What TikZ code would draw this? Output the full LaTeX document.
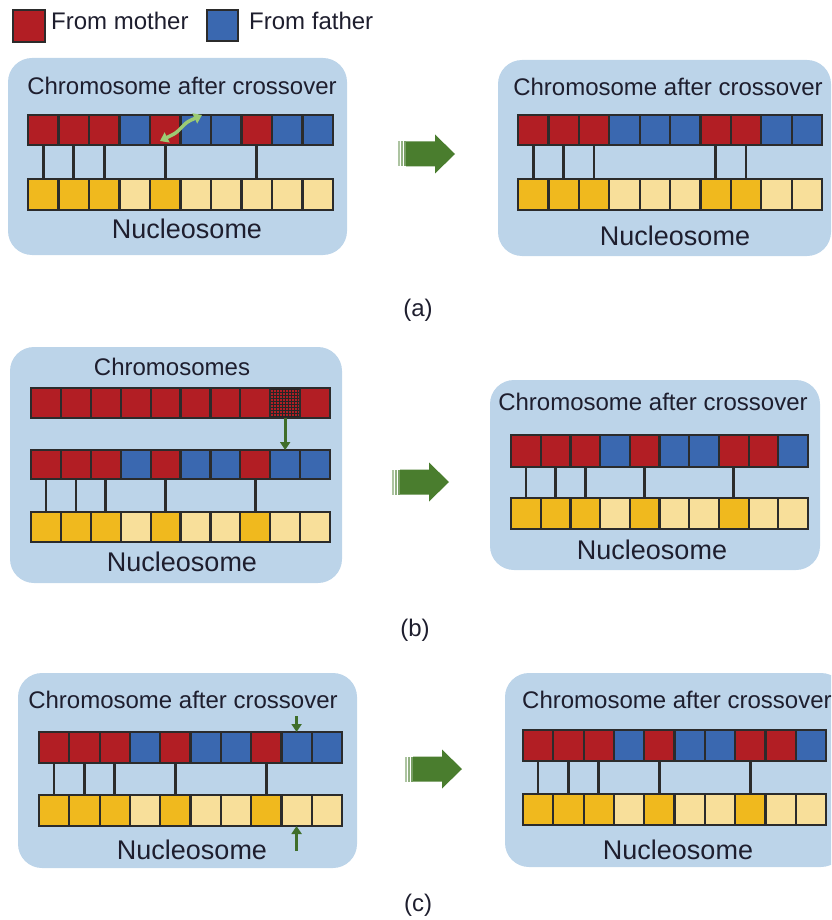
\documentclass[tikz,border=0pt]{standalone}
\usepackage{fontspec}
\setmainfont{Liberation Sans}
\usetikzlibrary{patterns,arrows.meta}
\definecolor{cR}{HTML}{B21E24}
\definecolor{cB}{HTML}{3A68B0}
\definecolor{cY}{HTML}{F0B91E}
\definecolor{cL}{HTML}{F8DF9A}
\definecolor{panelc}{HTML}{BCD4E9}
\definecolor{outl}{HTML}{2B2B2B}
\definecolor{txtc}{HTML}{1E1E2E}
\definecolor{bigg}{HTML}{4A7D2E}
\definecolor{darkg}{HTML}{3F6E2A}
\definecolor{lightg}{HTML}{9CCB74}
\begin{document}
\begin{tikzpicture}[x=1pt,y=-1pt,
  cell/.style n args={2}{draw=outl, line width=2.2pt, inner sep=0pt, outer sep=0pt,
    anchor=north west, minimum width=#1, minimum height=#2},
  panel/.style={fill=panelc, rounded corners=24pt, inner sep=0pt, outer sep=0pt},
  conn/.style={draw=outl, line width=2.6pt},
  ttl/.style={font=\fontsize{24}{28}\selectfont, text=txtc, inner sep=0pt},
  nuc/.style={font=\fontsize{27}{32}\selectfont, text=txtc, inner sep=0pt},
  garrow/.style={draw=darkg, line width=2.8pt, -{Triangle[width=10pt,length=8pt]}},
  dblarrow/.style={draw=lightg, line width=3.5pt, rounded corners=3pt,
    {Triangle[width=11pt,length=8pt]}-{Triangle[width=11pt,length=8pt]}},
  bigarrow/.pic={
    \fill[bigg] (8,-12.5) -- (37,-12.5) -- (37,-19.5) -- (57,0) -- (37,19.5) -- (37,12.5) -- (8,12.5) -- cycle;
    \fill[bigg, opacity=0.45] (0,-12.5) rectangle (1.6,12.5);
    \fill[bigg, opacity=0.6] (3,-12.5) rectangle (4.6,12.5);
    \fill[bigg, opacity=0.75] (5.8,-12.5) rectangle (8,12.5);
  }]
\useasboundingbox (0,0) rectangle (831,920);
\clip (0,0) rectangle (831,920);

% ---------- legend ----------
\node[cell={32pt}{32pt}, fill=cR] (legR) at (13,10) {};
\node[ttl, anchor=west] (legRt) at (51,21) {From mother};
\node[cell={31pt}{31pt}, fill=cB] (legB) at (207,10) {};
\node[ttl, anchor=west] (legBt) at (249,21) {From father};

% ---------- panel (a) ----------
\node[panel, minimum width=339pt, minimum height=197pt] (aLbox) at (177.5,156.5) {};
\node[ttl] (aLtitle) at (182,86) {Chromosome after crossover};
\foreach \c [count=\i] in {R,R,R,B,R,B,B,R,B,B}
  \node[cell={30.5pt}{30pt}, fill=c\c] (aLt\i) at ({28+(\i-1)*30.5},115) {};
\foreach \c [count=\i] in {Y,Y,Y,L,Y,L,L,L,L,L}
  \node[cell={30.5pt}{31pt}, fill=c\c] (aLb\i) at ({28+(\i-1)*30.5},179) {};
\foreach \i in {1,2,3,5,8} \draw[conn] (aLt\i.south) -- (aLb\i.north);
\node[nuc] (aLnuc) at (187,229) {Nucleosome};
\coordinate (dA1) at (160,141);
\coordinate (dA2) at (202,115);
\draw[dblarrow] (dA1) -- (176,133) -- (187,122) -- (dA2);

\pic at (398,154) {bigarrow};

\node[panel, minimum width=333pt, minimum height=196pt] (aRbox) at (664.5,158) {};
\node[ttl] (aRtitle) at (668,87) {Chromosome after crossover};
\foreach \c [count=\i] in {R,R,R,B,B,B,R,R,B,B}
  \node[cell={30.4pt}{30pt}, fill=c\c] (aRt\i) at ({518+(\i-1)*30.4},115) {};
\foreach \c [count=\i] in {Y,Y,Y,L,L,L,Y,Y,L,L}
  \node[cell={30.4pt}{31pt}, fill=c\c] (aRb\i) at ({518+(\i-1)*30.4},179) {};
\foreach \i in {1,2,3,7,8} \draw[conn] (aRt\i.south) -- (aRb\i.north);
\node[nuc] (aRnuc) at (675,236) {Nucleosome};

\node[ttl] (labA) at (418,310) {(a)};

% ---------- panel (b) ----------
\node[panel, minimum width=332pt, minimum height=236pt] (bLbox) at (176,465) {};
\node[ttl] (bLtitle) at (172,367) {Chromosomes};
\foreach \c [count=\i] in {R,R,R,R,R,R,R,R,R,R}
  \node[cell={29.9pt}{30pt}, fill=c\c] (bLt\i) at ({31+(\i-1)*29.9},388) {};
\fill[pattern=grid, pattern color=black!85] (bLt9.north west) rectangle (bLt9.south east);
\draw[outl, line width=2.2pt] (bLt9.north west) rectangle (bLt9.south east);
\foreach \c [count=\i] in {R,R,R,B,R,B,B,R,B,B}
  \node[cell={29.9pt}{29pt}, fill=c\c] (bLm\i) at ({31+(\i-1)*29.9},450) {};
\foreach \c [count=\i] in {Y,Y,Y,L,Y,L,L,Y,L,L}
  \node[cell={29.9pt}{30pt}, fill=c\c] (bLb\i) at ({31+(\i-1)*29.9},512) {};
\foreach \i in {1,2,3,5,8} \draw[conn] (bLm\i.south) -- (bLb\i.north);
\draw[garrow] (bLt9.south) -- (bLm9.north);
\node[nuc] (bLnuc) at (182,562) {Nucleosome};

\pic at (392,482) {bigarrow};

\node[panel, minimum width=330pt, minimum height=190pt] (bRbox) at (655,475) {};
\node[ttl] (bRtitle) at (653,402) {Chromosome after crossover};
\foreach \c [count=\i] in {R,R,R,B,R,B,B,R,R,B}
  \node[cell={29.7pt}{32pt}, fill=c\c] (bRt\i) at ({511+(\i-1)*29.7},435) {};
\foreach \c [count=\i] in {Y,Y,Y,L,Y,L,L,Y,L,L}
  \node[cell={29.7pt}{31pt}, fill=c\c] (bRb\i) at ({511+(\i-1)*29.7},498) {};
\foreach \i in {1,2,3,5,8} \draw[conn] (bRt\i.south) -- (bRb\i.north);
\node[nuc] (bRnuc) at (652,550) {Nucleosome};

\node[ttl] (labB) at (415,630) {(b)};

% ---------- panel (c) ----------
\node[panel, minimum width=339pt, minimum height=195pt] (cLbox) at (187.5,770.5) {};
\node[ttl] (cLtitle) at (183,700) {Chromosome after crossover};
\foreach \c [count=\i] in {R,R,R,B,R,B,B,R,B,B}
  \node[cell={30.3pt}{31pt}, fill=c\c] (cLt\i) at ({39+(\i-1)*30.3},732) {};
\foreach \c [count=\i] in {Y,Y,Y,L,Y,L,L,Y,L,L}
  \node[cell={30.3pt}{31pt}, fill=c\c] (cLb\i) at ({39+(\i-1)*30.3},795) {};
\foreach \i in {1,2,3,5,8} \draw[conn] (cLt\i.south) -- (cLb\i.north);
\coordinate (cLup) at ([yshift=16pt]cLt9.north);
\coordinate (cLdn) at ([yshift=-25pt]cLb9.south);
\draw[garrow] (cLup) -- (cLt9.north);
\draw[garrow] (cLdn) -- (cLb9.south);
\node[nuc] (cLnuc) at (192,850) {Nucleosome};

\pic at (405,769) {bigarrow};

\node[panel, minimum width=340pt, minimum height=194pt] (cRbox) at (675,770) {};
\node[ttl, anchor=west] (cRtitle) at (522,700) {Chromosome after crossover};
\foreach \c [count=\i] in {R,R,R,B,R,B,B,R,R,B}
  \node[cell={30.3pt}{31pt}, fill=c\c] (cRt\i) at ({523+(\i-1)*30.3},730) {};
\foreach \c [count=\i] in {Y,Y,Y,L,Y,L,L,Y,L,L}
  \node[cell={30.3pt}{31pt}, fill=c\c] (cRb\i) at ({523+(\i-1)*30.3},794) {};
\foreach \i in {1,2,3,5,8} \draw[conn] (cRt\i.south) -- (cRb\i.north);
\node[nuc] (cRnuc) at (678,850) {Nucleosome};

\node[ttl] (labC) at (418,905) {(c)};
\end{tikzpicture}
\end{document}
